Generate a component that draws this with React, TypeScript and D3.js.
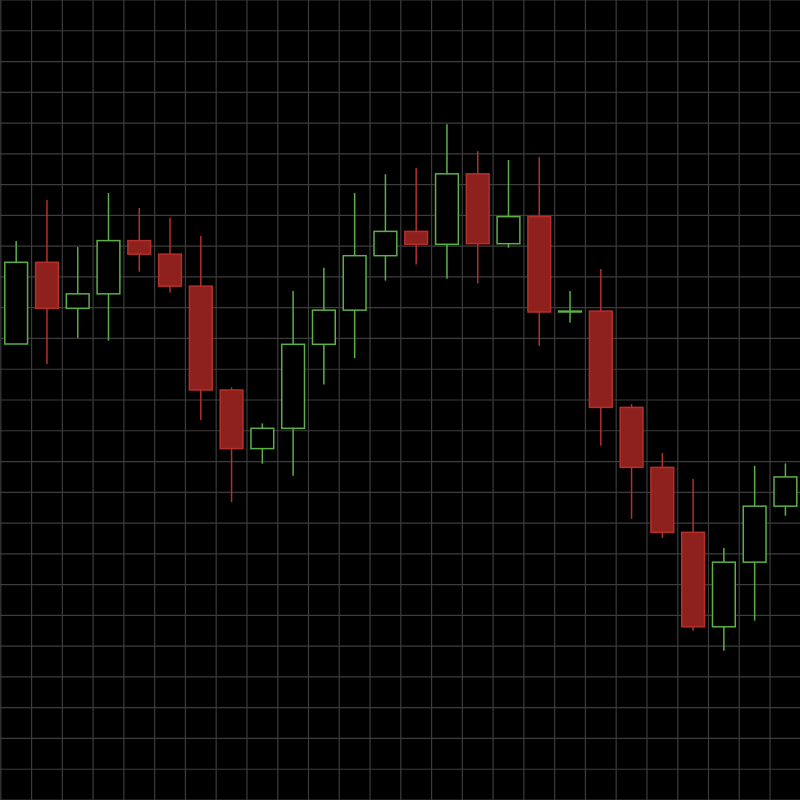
import React from "react";
import * as d3 from "d3";

const days = d3.range(1, 27).map((d) => `D${d}`);
const opens = [148.2, 174.75, 159.8, 164.5, 181.8, 177.4, 167.0, 133.25, 114.2, 120.8, 148.1, 159.2, 176.9, 184.8, 180.6, 203.5, 180.8, 189.6, 158.6, 158.9, 127.6, 108.1, 87.0, 56.3, 77.3, 95.5];
const closes = [174.75, 159.8, 164.5, 181.8, 177.4, 167.0, 133.25, 114.2, 120.8, 148.1, 159.2, 176.9, 184.8, 180.6, 203.5, 180.8, 189.6, 158.6, 158.9, 127.6, 108.1, 87.0, 56.3, 77.3, 95.5, 105.0];
const highs = [181.7, 195.0, 179.7, 197.3, 192.4, 189.2, 183.3, 134.1, 122.4, 165.4, 173.0, 197.3, 203.4, 205.4, 219.6, 210.9, 208.0, 209.0, 165.4, 172.6, 128.7, 112.8, 104.3, 81.9, 108.6, 109.4];
const lows = [148.2, 141.7, 150.2, 149.3, 171.7, 164.9, 123.5, 96.8, 109.3, 105.4, 135.0, 143.6, 168.8, 174.0, 169.4, 167.9, 179.5, 147.6, 155.1, 115.1, 91.4, 85.2, 55.0, 48.5, 58.3, 92.4];
const priceTicks = d3.range(0, 261, 10);

const W = 800;
const H = 800;
const UP = "#5cb048";
const DOWN_STROKE = "#b5302a";
const DOWN_FILL = "#8e211d";
const GRID = "#3c3c3c";

export default function App() {
  const x = d3.scaleBand<string>().domain(days).range([0.8, W + 0.8]).padding(0);
  const y = d3.scaleLinear().domain([0, 260]).range([H, 0]);
  const bw = x.bandwidth();
  const bodyW = bw * 0.74;
  const gridX = d3.range(0, days.length + 1).map((i) => 0.8 + i * bw);

  return (
    <svg
      width={W}
      height={H}
      style={{ position: "absolute", left: 0, top: 0, background: "#000" }}
    >
      <rect x={0} y={0} width={W} height={H} fill="#000" />
      <g>
        {gridX.map((gx, i) => (
          <line key={`v${i}`} x1={gx} x2={gx} y1={0} y2={H} stroke={GRID} strokeWidth={1.2} />
        ))}
        {priceTicks.map((t) => (
          <line key={`h${t}`} x1={0} x2={W} y1={y(t)} y2={y(t)} stroke={GRID} strokeWidth={1.2} />
        ))}
      </g>
      <g>
        {days.map((d, i) => {
          const o = opens[i];
          const c = closes[i];
          const up = c >= o;
          const cx = (x(d) ?? 0) + bw / 2;
          const top = y(Math.max(o, c));
          const bot = y(Math.min(o, c));
          const stroke = up ? UP : DOWN_STROKE;
          return (
            <g key={d}>
              <line x1={cx} x2={cx} y1={y(highs[i])} y2={y(lows[i])} stroke={stroke} strokeWidth={1.5} />
              <rect
                x={cx - bodyW / 2}
                y={top}
                width={bodyW}
                height={Math.max(bot - top, 0.01)}
                fill={up ? "#000" : DOWN_FILL}
                stroke={stroke}
                strokeWidth={1.5}
              />
            </g>
          );
        })}
      </g>
    </svg>
  );
}
